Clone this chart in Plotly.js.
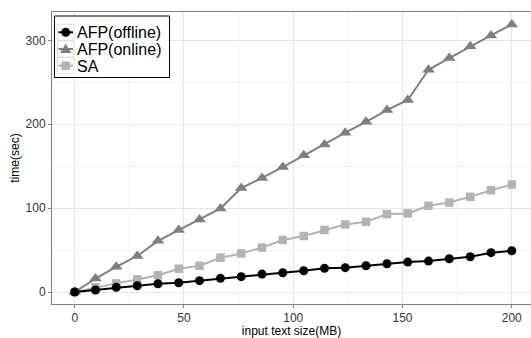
<!DOCTYPE html>
<html>
<head>
<meta charset="utf-8">
<script src="https://cdn.plot.ly/plotly-3.0.1.min.js"></script>
<style>html,body{margin:0;padding:0;overflow:hidden;background:#fff;}</style>
</head>
<body>
<div id="chart" style="width:531px;height:338px;"></div>
<script>
const sizeMB = [0, 9.5, 19, 28.6, 38.1, 47.6, 57.1, 66.7, 76.2, 85.7, 95.2, 104.8, 114.3, 123.8, 133.3, 142.9, 152.4, 161.9, 171.4, 181, 190.5, 200];
const afpOffline = [0, 2.4, 5.6, 7.5, 9.9, 11, 13.5, 16.3, 18.3, 21.4, 23, 25.4, 28.2, 29, 31.3, 33.7, 35.7, 36.9, 39.7, 42.1, 46.9, 49.2];
const afpOnline = [0, 16, 30, 43, 61, 74, 86.5, 99.6, 124, 136, 149, 163, 176, 190, 203, 217, 229, 265, 279, 293, 306, 319];
const saTime = [0, 5.6, 10.3, 15, 20, 27.8, 31.3, 40.9, 46, 53, 62, 66.7, 74, 80.6, 83.7, 92.9, 93.7, 102.8, 106.7, 113.5, 121.4, 128.2];
const seriesNames = ["AFP(offline)", "AFP(online)", "SA"];
const seriesColors = ["#000000", "#7f7f7f", "#b3b3b3"];

const traces = [
  {x: sizeMB, y: saTime, name: seriesNames[2], mode: "lines+markers",
   line: {color: seriesColors[2], width: 2}, marker: {symbol: "square", size: 8.5, color: seriesColors[2]}},
  {x: sizeMB, y: afpOnline, name: seriesNames[1], mode: "lines+markers",
   line: {color: seriesColors[1], width: 2}, marker: {symbol: "triangle-up", size: 11, color: seriesColors[1]}},
  {x: sizeMB, y: afpOffline, name: seriesNames[0], mode: "lines+markers",
   line: {color: seriesColors[0], width: 2}, marker: {symbol: "circle", size: 9, color: seriesColors[0]}}
];

// plot area in pixels: x 52..531, y 12..304
const M = {l: 52, r: 0, t: 12, b: 34};
const PW = 531 - M.l - M.r, PH = 338 - M.t - M.b;
const px = v => (v - M.l) / PW;
const py = v => 1 - (v - M.t) / PH;

// custom ggplot-style legend
const shapes = [];
const annotations = [];
shapes.push({type: "rect", xref: "paper", yref: "paper", x0: px(54.5), x1: px(169.5), y0: py(16), y1: py(77.5),
             line: {color: "#000", width: 1}, fillcolor: "#fff", layer: "above"});
const rowY = [32.3, 49, 65.7];
const symbols = ["circle", "triangle", "square"];
for (let i = 0; i < 3; i++) {
  const cy = rowY[i];
  shapes.push({type: "rect", xref: "paper", yref: "paper", x0: px(57.5), x1: px(74), y0: py(cy - 8.2), y1: py(cy + 8.2),
               line: {color: "#dedede", width: 1}, fillcolor: "#fff", layer: "above"});
  shapes.push({type: "line", xref: "paper", yref: "paper", x0: px(58.5), x1: px(73), y0: py(cy), y1: py(cy),
               line: {color: seriesColors[i], width: 2}, layer: "above"});
  const base = {xref: "paper", yref: "paper", xsizemode: "pixel", ysizemode: "pixel",
                xanchor: px(65.7), yanchor: py(cy), fillcolor: seriesColors[i], line: {width: 0}, layer: "above"};
  if (symbols[i] === "circle") shapes.push(Object.assign({type: "circle", x0: -4.5, x1: 4.5, y0: -4.5, y1: 4.5}, base));
  if (symbols[i] === "triangle") shapes.push(Object.assign({type: "path", path: "M-5.5,-4 L5.5,-4 L0,5.5 Z"}, base));
  if (symbols[i] === "square") shapes.push(Object.assign({type: "rect", x0: -4.2, x1: 4.2, y0: -4.2, y1: 4.2}, base));
  annotations.push({xref: "paper", yref: "paper", x: px(75.5), y: py(cy + 0.5), xanchor: "left", yanchor: "middle",
                    text: seriesNames[i], showarrow: false, font: {size: 16, color: "#000"}, borderpad: 0});
}

const layout = {
  width: 531, height: 338,
  margin: M,
  paper_bgcolor: "#fff", plot_bgcolor: "#fff",
  font: {family: "Liberation Sans, Arial, sans-serif", color: "#333"},
  showlegend: false,
  shapes: shapes,
  annotations: annotations,
  xaxis: {range: [-10.4, 208.8], tickvals: [0, 50, 100, 150, 200], ticks: "outside", ticklen: 3,
          tickcolor: "#7f7f7f", showline: true, linecolor: "#7f7f7f", linewidth: 1, mirror: true,
          showgrid: true, gridcolor: "#e5e5e5", zeroline: false,
          minor: {tickvals: [25, 75, 125, 175], showgrid: true, gridcolor: "#f3f3f3", ticks: ""},
          tickfont: {size: 12, color: "#333"},
          title: {text: "input text size(MB)", font: {size: 12, color: "#000"}, standoff: 11}},
  yaxis: {range: [-14.3, 333.9], tickvals: [0, 100, 200, 300], ticks: "outside", ticklen: 3,
          tickcolor: "#7f7f7f", showline: true, linecolor: "#7f7f7f", linewidth: 1, mirror: true,
          showgrid: true, gridcolor: "#e5e5e5", zeroline: false,
          minor: {tickvals: [50, 150, 250], showgrid: true, gridcolor: "#f3f3f3", ticks: ""},
          tickfont: {size: 12, color: "#333"},
          title: {text: "time(sec)", font: {size: 12, color: "#000"}, standoff: 3}}
};

Plotly.newPlot("chart", traces, layout, {displayModeBar: false, staticPlot: true});
</script>
</body>
</html>
